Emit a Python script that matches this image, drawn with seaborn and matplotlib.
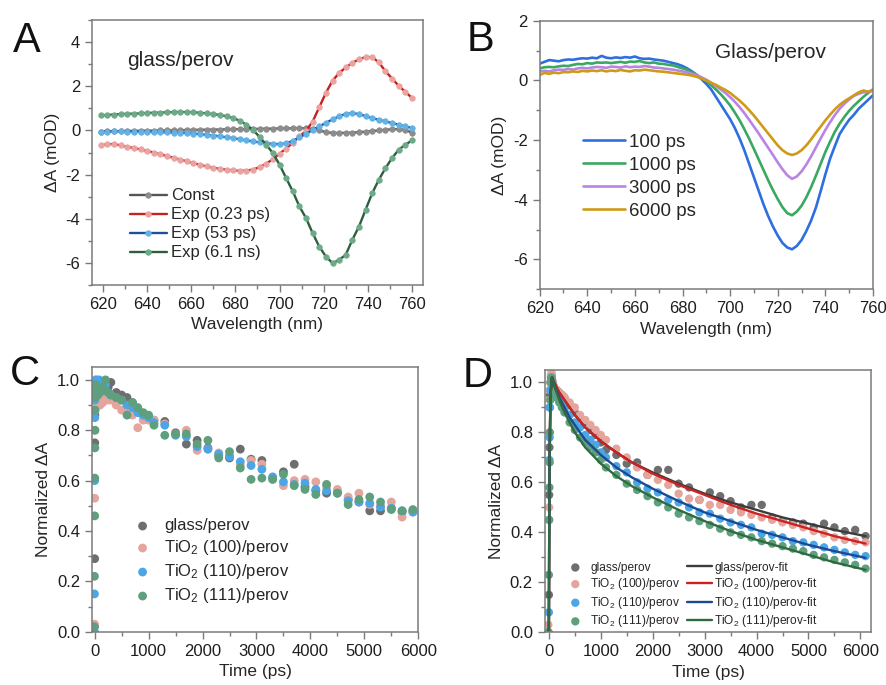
import matplotlib
matplotlib.use("Agg")
import matplotlib.pyplot as plt
import numpy as np
import seaborn as sns
from matplotlib.ticker import MultipleLocator

# ---------------- panel A : decay associated spectra ----------------
wl_a = np.arange(619, 761, 3)
const_a = [-0.05, -0.04, -0.04, -0.03, -0.03, -0.02, -0.02, -0.01,
           -0.01, 0.00, 0.00, 0.01, 0.01, 0.02, 0.02, 0.03,
           0.03, 0.04, 0.04, 0.05, 0.05, 0.06, 0.06, 0.07,
           0.07, 0.08, 0.08, 0.09, 0.09, 0.10, 0.10, 0.10,
           0.07, 0.00, -0.08, -0.11, -0.12, -0.11, -0.10, -0.08,
           -0.06, -0.03, 0.00, 0.03, 0.05, 0.06, 0.02, -0.10]
exp023_a = [-0.68, -0.62, -0.62, -0.68, -0.74, -0.80, -0.86, -0.93,
            -1.00, -1.08, -1.16, -1.24, -1.32, -1.40, -1.48, -1.56,
            -1.63, -1.69, -1.74, -1.78, -1.81, -1.83, -1.82, -1.77,
            -1.66, -1.50, -1.30, -1.05, -0.82, -0.56, -0.27, -0.02,
            0.40, 1.05, 1.70, 2.25, 2.60, 2.85, 3.06, 3.22,
            3.32, 3.32, 3.08, 2.68, 2.35, 2.02, 1.75, 1.47]
exp53_a = [-0.05, -0.05, -0.04, -0.04, -0.05, -0.05, -0.06, -0.06,
           -0.07, -0.08, -0.09, -0.10, -0.11, -0.12, -0.14, -0.17,
           -0.20, -0.23, -0.27, -0.31, -0.35, -0.40, -0.45, -0.50,
           -0.54, -0.58, -0.61, -0.62, -0.58, -0.47, -0.32, -0.15,
           0.02, 0.18, 0.34, 0.50, 0.64, 0.75, 0.78, 0.74,
           0.65, 0.56, 0.48, 0.41, 0.33, 0.26, 0.18, 0.11]
exp61_a = [0.68, 0.70, 0.72, 0.74, 0.75, 0.76, 0.77, 0.79,
           0.80, 0.81, 0.82, 0.83, 0.83, 0.83, 0.82, 0.80,
           0.77, 0.74, 0.70, 0.64, 0.56, 0.44, 0.26, 0.02,
           -0.30, -0.65, -1.03, -1.55, -2.16, -2.76, -3.44, -3.97,
           -4.65, -5.26, -5.71, -6.01, -5.86, -5.63, -4.95, -4.35,
           -3.59, -2.84, -2.23, -1.71, -1.25, -0.87, -0.65, -0.45]
labels_a = ["Const", "Exp (0.23 ps)", "Exp (53 ps)", "Exp (6.1 ns)"]

# ---------------- panel B : spectra at delay times ----------------
wl_b = np.arange(620, 761, 2)
s100 = [0.56, 0.62, 0.68, 0.66, 0.64, 0.68, 0.70, 0.69, 0.72, 0.74,
        0.73, 0.76, 0.74, 0.82, 0.76, 0.74, 0.77, 0.75, 0.78, 0.76,
        0.80, 0.74, 0.72, 0.73, 0.70, 0.68, 0.66, 0.62, 0.58, 0.54,
        0.48, 0.40, 0.30, 0.18, 0.04, -0.12, -0.30, -0.55, -0.80, -1.05,
        -1.30, -1.60, -1.95, -2.35, -2.80, -3.25, -3.70, -4.15, -4.55, -4.90,
        -5.20, -5.45, -5.60, -5.66, -5.55, -5.35, -5.05, -4.70, -4.27, -3.72,
        -3.15, -2.62, -2.20, -1.80, -1.55, -1.32, -1.15, -0.95, -0.80, -0.65,
        -0.50]
s1000 = [0.40, 0.44, 0.45, 0.44, 0.47, 0.49, 0.48, 0.52, 0.55, 0.54,
         0.58, 0.56, 0.60, 0.59, 0.60, 0.58, 0.60, 0.62, 0.59, 0.63,
         0.62, 0.65, 0.60, 0.58, 0.60, 0.56, 0.55, 0.52, 0.50, 0.45,
         0.40, 0.35, 0.27, 0.18, 0.08, -0.03, -0.16, -0.30, -0.46, -0.64,
         -0.84, -1.08, -1.34, -1.64, -1.96, -2.30, -2.65, -3.00, -3.35, -3.68,
         -3.98, -4.25, -4.45, -4.52, -4.40, -4.20, -3.92, -3.58, -3.20, -2.80,
         -2.40, -2.05, -1.72, -1.45, -1.22, -1.02, -0.85, -0.70, -0.55, -0.42,
         -0.30]
s3000 = [0.30, 0.32, 0.30, 0.34, 0.36, 0.35, 0.38, 0.36, 0.40, 0.42,
         0.40, 0.43, 0.45, 0.44, 0.42, 0.46, 0.45, 0.43, 0.47, 0.44,
         0.46, 0.45, 0.48, 0.46, 0.43, 0.42, 0.40, 0.38, 0.36, 0.33,
         0.30, 0.27, 0.22, 0.17, 0.10, 0.02, -0.08, -0.18, -0.30, -0.42,
         -0.56, -0.72, -0.90, -1.10, -1.32, -1.55, -1.78, -2.02, -2.26, -2.50,
         -2.75, -2.98, -3.18, -3.30, -3.22, -3.05, -2.82, -2.55, -2.25, -1.95,
         -1.66, -1.40, -1.16, -0.95, -0.78, -0.64, -0.52, -0.45, -0.40, -0.38,
         -0.36]
s6000 = [0.18, 0.25, 0.22, 0.26, 0.24, 0.28, 0.27, 0.30, 0.28, 0.32,
         0.30, 0.33, 0.31, 0.34, 0.30, 0.33, 0.31, 0.35, 0.32, 0.30,
         0.34, 0.33, 0.36, 0.34, 0.32, 0.30, 0.29, 0.27, 0.25, 0.23,
         0.21, 0.19, 0.16, 0.12, 0.06, 0.00, -0.08, -0.15, -0.24, -0.32,
         -0.42, -0.55, -0.68, -0.83, -1.00, -1.18, -1.38, -1.58, -1.78, -1.98,
         -2.18, -2.34, -2.45, -2.50, -2.45, -2.34, -2.18, -1.98, -1.76, -1.55,
         -1.34, -1.15, -0.97, -0.82, -0.70, -0.60, -0.50, -0.40, -0.34, -0.38,
         -0.32]
labels_b = ["100 ps", "1000 ps", "3000 ps", "6000 ps"]

# ---------------- panel C : normalized kinetics ----------------
t_c = [-8, -4, 0, 2, 4, 6, 8, 10, 15, 20, 30, 40, 50, 60, 80, 100, 150, 200,
       250, 300, 400, 500, 600, 700, 800, 900, 1000,
       1100, 1300, 1500, 1700, 1900, 2100, 2300, 2500, 2700, 2900, 3100, 3300,
       3500, 3700, 3900, 4100, 4300, 4500, 4700, 4900, 5100, 5300, 5500, 5700, 5900]
glass_c = [0.0, 0.02, 0.29, 0.75, 0.86, 0.90, 0.93, 0.94, 0.95, 0.95, 0.96, 0.96, 0.95,
           0.96, 0.97, 0.97, 0.96, 0.98, 0.97, 0.99, 0.95, 0.94, 0.93, 0.91, 0.88, 0.86, 0.85,
           0.84, 0.835, 0.79, 0.745, 0.76, 0.73, 0.70, 0.69, 0.725, 0.685, 0.68, 0.61,
           0.635, 0.665, 0.575, 0.56, 0.55, 0.555, 0.525, 0.515, 0.48, 0.48, 0.49, 0.475, 0.48]
t100_c = [0.0, 0.03, 0.53, 0.80, 0.88, 0.90, 0.89, 0.91, 1.0, 0.90, 0.92, 0.90, 0.91,
          0.93, 0.92, 0.90, 0.91, 0.93, 0.92, 0.92, 0.90, 0.88, 0.87, 0.86, 0.81, 0.84, 0.84,
          0.84, 0.825, 0.785, 0.80, 0.72, 0.725, 0.71, 0.70, 0.66, 0.68, 0.665, 0.605,
          0.58, 0.60, 0.605, 0.595, 0.575, 0.565, 0.535, 0.55, 0.505, 0.50, 0.515, 0.455, 0.475]
t110_c = [0.0, 0.15, 0.60, 0.85, 0.92, 0.95, 0.96, 0.97, 0.98, 0.99, 1.0, 0.98, 0.97,
          0.96, 1.0, 0.97, 0.96, 0.98, 0.95, 0.94, 0.93, 0.92, 0.90, 0.89, 0.87, 0.86, 0.85,
          0.83, 0.82, 0.78, 0.775, 0.735, 0.725, 0.705, 0.695, 0.675, 0.66, 0.645, 0.615,
          0.595, 0.585, 0.59, 0.565, 0.56, 0.55, 0.52, 0.515, 0.51, 0.495, 0.49, 0.48, 0.475]
t111_c = [0.02, 0.22, 0.46, 0.61, 0.73, 0.80, 0.88, 0.93, 0.96, 0.98, 0.97, 0.96, 0.95,
          0.94, 0.96, 0.95, 0.97, 1.0, 0.95, 0.94, 0.93, 0.92, 0.86, 0.91, 0.89, 0.87, 0.86,
          0.82, 0.78, 0.785, 0.785, 0.745, 0.76, 0.69, 0.715, 0.65, 0.605, 0.61, 0.605,
          0.625, 0.58, 0.565, 0.545, 0.585, 0.55, 0.505, 0.525, 0.535, 0.515, 0.485, 0.48, 0.485]
labels_c = ["glass/perov", "TiO$_2$ (100)/perov", "TiO$_2$ (110)/perov", "TiO$_2$ (111)/perov"]

# ---------------- panel D : kinetics with fits ----------------
t_d = [-10, 0, 5, 10, 15, 20, 30, 40, 50, 60, 80, 100, 150, 200, 250, 300, 400, 500,
       600, 700, 800, 900, 1000,
       1100, 1300, 1500, 1700, 1900, 2100, 2300, 2500, 2700, 2900, 3100, 3300, 3500,
       3700, 3900, 4100, 4300, 4500, 4700, 4900, 5100, 5300, 5500, 5700, 5900, 6100]
glass_d = [0.0, 0.15, 0.55, 0.74, 0.90, 0.95, 1.0, 1.02, 1.01, 1.0, 0.99, 0.98, 0.97,
           0.96, 0.95, 0.94, 0.91, 0.88, 0.86, 0.84, 0.81, 0.79, 0.76,
           0.73, 0.71, 0.675, 0.68, 0.63, 0.65, 0.65, 0.595, 0.58, 0.53, 0.56, 0.545, 0.525,
           0.50, 0.51, 0.51, 0.46, 0.445, 0.44, 0.435, 0.42, 0.435, 0.42, 0.405, 0.41, 0.385]
t100_d = [0.03, 0.0, 0.50, 0.80, 0.93, 0.97, 1.0, 1.03, 1.04, 1.03, 1.0, 0.98, 0.97,
          0.96, 0.95, 0.94, 0.92, 0.90, 0.87, 0.85, 0.83, 0.81, 0.79,
          0.77, 0.735, 0.70, 0.66, 0.63, 0.61, 0.59, 0.555, 0.535, 0.53, 0.51, 0.51, 0.49,
          0.48, 0.47, 0.46, 0.45, 0.44, 0.43, 0.42, 0.405, 0.395, 0.38, 0.37, 0.365, 0.36]
t110_d = [0.0, 0.08, 0.45, 0.69, 0.78, 0.90, 0.97, 1.0, 1.02, 1.01, 0.99, 0.97, 0.95,
          0.93, 0.91, 0.89, 0.87, 0.84, 0.82, 0.79, 0.77, 0.75, 0.72,
          0.70, 0.665, 0.64, 0.60, 0.575, 0.56, 0.53, 0.52, 0.50, 0.48, 0.475, 0.455, 0.44,
          0.43, 0.42, 0.395, 0.39, 0.38, 0.365, 0.36, 0.35, 0.34, 0.33, 0.32, 0.31, 0.305]
t111_d = [0.0, 0.23, 0.45, 0.58, 0.68, 0.80, 0.93, 1.0, 1.02, 1.01, 0.99, 0.97, 0.94,
          0.92, 0.90, 0.88, 0.84, 0.81, 0.78, 0.76, 0.74, 0.72, 0.69,
          0.66, 0.63, 0.595, 0.57, 0.545, 0.52, 0.50, 0.475, 0.46, 0.445, 0.43, 0.415, 0.40,
          0.39, 0.38, 0.365, 0.355, 0.345, 0.335, 0.325, 0.31, 0.30, 0.29, 0.28, 0.27, 0.255]
t_fit = [0, 10, 30, 60, 100, 200, 300, 400, 500, 700, 1000, 1300, 1600, 2000, 2500,
         3000, 3500, 4000, 4500, 5000, 5500, 6100]
glass_fit = [0.0, 0.60, 0.95, 1.02, 1.00, 0.96, 0.93, 0.90, 0.87, 0.82, 0.765, 0.72, 0.68,
             0.64, 0.595, 0.555, 0.52, 0.49, 0.46, 0.435, 0.41, 0.385]
t100_fit = [0.0, 0.60, 0.95, 1.02, 1.00, 0.96, 0.93, 0.90, 0.87, 0.82, 0.765, 0.72, 0.68,
            0.635, 0.59, 0.55, 0.51, 0.475, 0.445, 0.415, 0.385, 0.355]
t110_fit = [0.0, 0.60, 0.95, 1.02, 0.99, 0.94, 0.90, 0.86, 0.83, 0.77, 0.71, 0.66, 0.62,
            0.575, 0.525, 0.48, 0.445, 0.41, 0.38, 0.35, 0.325, 0.298]
t111_fit = [0.0, 0.60, 0.95, 1.02, 0.99, 0.93, 0.88, 0.84, 0.80, 0.74, 0.675, 0.625, 0.585,
            0.54, 0.49, 0.445, 0.405, 0.37, 0.34, 0.31, 0.28, 0.25]
labels_fit = [l + "-fit" for l in labels_c]

# colours
line_a = ["#555555", "#c8201f", "#1d4f9a", "#2e5e3f"]
mark_a = ["#8c8c8c", "#eaa3a0", "#62b2e6", "#6dab88"]
col_b = ["#2d6fe0", "#3aa860", "#b984e6", "#cf9b17"]
pts = ["#6e6e6e", "#e4a59c", "#4ba5e6", "#5e9f7d"]
fits = ["#3c3c3c", "#cc2222", "#1b4a95", "#2f6a40"]

sns.set_theme(style="ticks")
plt.rcParams["font.family"] = ["Liberation Sans", "DejaVu Sans"]
plt.rcParams["mathtext.fontset"] = "custom"
plt.rcParams["mathtext.rm"] = "Liberation Sans"
plt.rcParams["mathtext.default"] = "regular"
plt.rcParams["axes.unicode_minus"] = False

fig = plt.figure(figsize=(8.86, 6.85), dpi=100)
axA = fig.add_axes([0.1038, 0.5839, 0.3736, 0.3869])
axB = fig.add_axes([0.6091, 0.5777, 0.3762, 0.3921])
axC = fig.add_axes([0.1038, 0.0778, 0.3683, 0.3860])
axD = fig.add_axes([0.6148, 0.0769, 0.3686, 0.3830])


def style(ax):
    for sp in ax.spines.values():
        sp.set_visible(True)
        sp.set_color("#7a7a7a")
        sp.set_linewidth(1.1)
    ax.tick_params(which="both", direction="out", top=False, right=False,
                   color="#7a7a7a", labelcolor="#1e1e1e", labelsize=12, width=1.0)
    ax.tick_params(which="major", length=5)
    ax.tick_params(which="minor", length=3)


# A
for vals, lab, lc, mc in zip([const_a, exp023_a, exp53_a, exp61_a], labels_a, line_a, mark_a):
    sns.lineplot(x=wl_a, y=vals, ax=axA, color=lc, lw=1.7, marker="o", markersize=4.0,
                 markerfacecolor=mc, markeredgecolor=mc, markeredgewidth=0.5, label=lab)
axA.set_xlim(615, 765)
axA.set_ylim(-7, 5)
axA.set_xticks(range(620, 761, 20))
axA.set_yticks(range(-6, 5, 2))
axA.xaxis.set_minor_locator(MultipleLocator(10))
axA.yaxis.set_minor_locator(MultipleLocator(1))
axA.set_xlabel("Wavelength (nm)", fontsize=12.5)
axA.set_ylabel("ΔA (mOD)", fontsize=12.5)
axA.text(0.105, 0.826, "glass/perov", transform=axA.transAxes, fontsize=15, va="baseline")
axA.legend(loc="upper left", bbox_to_anchor=(0.09, 0.396), frameon=False, fontsize=12,
           handlelength=2.2, handletextpad=0.25, labelspacing=0.24, borderpad=0)
style(axA)

# B
for vals, lab, c in zip([s100, s1000, s3000, s6000], labels_b, col_b):
    sns.lineplot(x=wl_b, y=vals, ax=axB, color=c, lw=1.9, label=lab)
axB.set_xlim(620, 760)
axB.set_ylim(-7, 2)
axB.set_xticks(range(620, 761, 20))
axB.set_yticks(range(-6, 3, 2))
axB.xaxis.set_minor_locator(MultipleLocator(10))
axB.yaxis.set_minor_locator(MultipleLocator(1))
axB.set_xlabel("Wavelength (nm)", fontsize=12.5)
axB.set_ylabel("ΔA (mOD)", fontsize=12.5)
axB.text(0.525, 0.86, "Glass/perov", transform=axB.transAxes, fontsize=15, va="baseline")
axB.legend(loc="upper left", bbox_to_anchor=(0.103, 0.615), frameon=False, fontsize=13.5,
           handlelength=2.2, handletextpad=0.25, labelspacing=0.32, borderpad=0)
style(axB)

# C
for vals, lab, c in zip([glass_c, t100_c, t110_c, t111_c], labels_c, pts):
    sns.scatterplot(x=t_c, y=vals, ax=axC, color=c, s=40, edgecolor="none", label=lab)
axC.set_xlim(-50, 6000)
axC.set_ylim(0, 1.05)
axC.set_xticks(range(0, 6001, 1000))
axC.set_yticks(np.arange(0, 1.01, 0.2))
axC.yaxis.set_major_formatter(matplotlib.ticker.FormatStrFormatter("%.1f"))
axC.xaxis.set_minor_locator(MultipleLocator(500))
axC.yaxis.set_minor_locator(MultipleLocator(0.1))
axC.set_xlabel("Time (ps)", fontsize=12.5)
axC.set_ylabel("Normalized ΔA", fontsize=12.5)
axC.legend(loc="upper left", bbox_to_anchor=(0.104, 0.46), frameon=False, fontsize=12,
           handlelength=1.0, handletextpad=0.8, labelspacing=0.3, borderpad=0)
style(axC)

# D
for vals, lab, c in zip([glass_d, t100_d, t110_d, t111_d], labels_c, pts):
    sns.scatterplot(x=t_d, y=vals, ax=axD, color=c, s=36, edgecolor="none", label=lab)
for vals, lab, c in zip([glass_fit, t100_fit, t110_fit, t111_fit], labels_fit, fits):
    sns.lineplot(x=t_fit, y=vals, ax=axD, color=c, lw=1.7, label=lab)
axD.set_xlim(-80, 6210)
axD.set_ylim(0, 1.05)
axD.set_xticks(range(0, 6001, 1000))
axD.set_yticks(np.arange(0, 1.01, 0.2))
axD.yaxis.set_major_formatter(matplotlib.ticker.FormatStrFormatter("%.1f"))
axD.xaxis.set_minor_locator(MultipleLocator(500))
axD.yaxis.set_minor_locator(MultipleLocator(0.1))
axD.set_xlabel("Time (ps)", fontsize=12.5)
axD.set_ylabel("Normalized ΔA", fontsize=12.5)
h, l = axD.get_legend_handles_labels()
axD.legend(h, l, ncol=2, loc="lower left", bbox_to_anchor=(0.037, -0.012), frameon=False,
           fontsize=8.6, handlelength=2.1, handletextpad=0.2, labelspacing=0.22,
           columnspacing=0.55, borderpad=0)
style(axD)

for x, y, s in [(0.0143, 0.9245, "A"), (0.527, 0.926, "B"), (0.0113, 0.438, "C"), (0.5218, 0.4355, "D")]:
    fig.text(x, y, s, fontsize=30, va="baseline", color="#111111")

fig.savefig("out.png", dpi=100)
